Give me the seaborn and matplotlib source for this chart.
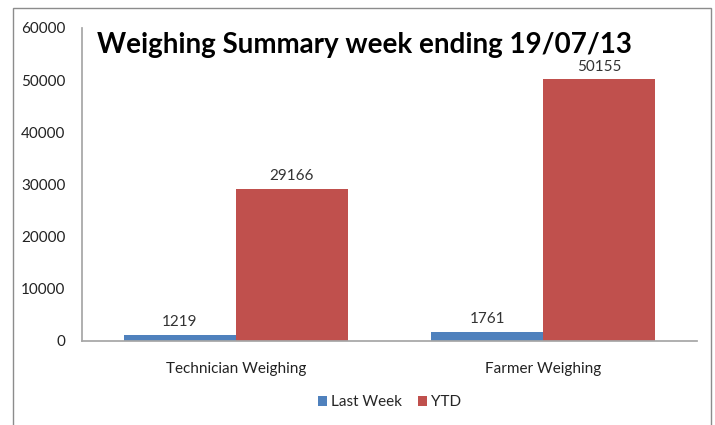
import matplotlib
matplotlib.use("Agg")
import matplotlib.pyplot as plt
import pandas as pd
import seaborn as sns
from matplotlib.patches import Rectangle

categories = ["Technician Weighing", "Farmer Weighing"]
series = ["Last Week", "YTD"]
last_week = [1219, 1761]
ytd = [29166, 50155]
yticks = [0, 10000, 20000, 30000, 40000, 50000, 60000]

df = pd.DataFrame({
    "category": categories * 2,
    "series": [series[0]] * 2 + [series[1]] * 2,
    "value": last_week + ytd,
})

sns.set_theme(style="white")
plt.rcParams["font.family"] = ["Lato", "DejaVu Sans"]

fig = plt.figure(figsize=(7.15, 4.25), dpi=100)
ax = fig.add_axes([82 / 715, 1 - 341 / 425, 615 / 715, 313 / 425])

sns.barplot(data=df, x="category", y="value", hue="series", order=categories,
            hue_order=series, palette=["#4F81BD", "#C0504D"], width=0.73,
            saturation=1, linewidth=0, ax=ax, legend=True)

for cont in ax.containers:
    ax.bar_label(cont, fmt="%d", padding=4, fontsize=11, color="#333333")

ax.set_ylim(0, 60000)
ax.set_yticks(yticks)
ax.set_yticklabels([str(t) for t in yticks])
ax.set_xlabel("")
ax.set_ylabel("")
ax.tick_params(axis="both", length=0, labelsize=11, colors="#222222")
ax.tick_params(axis="y", pad=12)
ax.tick_params(axis="x", pad=15)
for s in ["top", "right"]:
    ax.spines[s].set_visible(False)
ax.spines["left"].set_color("#a6a6a6")
ax.spines["bottom"].set_color("#a6a6a6")

ax.legend(loc="center", bbox_to_anchor=(0.5, -0.195), ncol=2, frameon=False,
          fontsize=11, handlelength=0.6, handleheight=0.6, handletextpad=0.3,
          columnspacing=1.0)

fig.text(97 / 715, 1 - 45 / 425, "Weighing Summary week ending 19/07/13",
         fontsize=20, fontweight="bold", family=["Lato", "DejaVu Sans"],
         va="center", ha="left", color="black")

fig.patches.append(Rectangle((13 / 715, -0.1), 698 / 715, 1.1 - 8 / 425,
                             transform=fig.transFigure, fill=False,
                             edgecolor="#8c8c8c", linewidth=1))

fig.savefig("out.png", dpi=100)
